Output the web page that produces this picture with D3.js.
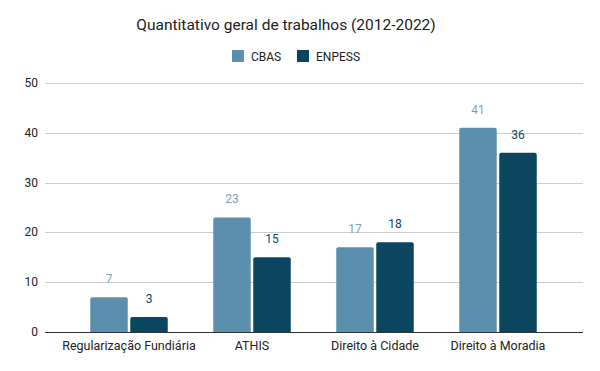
<!DOCTYPE html>
<html>
<head>
<meta charset="utf-8">
<script src="https://cdn.jsdelivr.net/npm/d3@7"></script>
<style>
  body { margin: 0; background: #fff; }
  text { font-family: Roboto, "Liberation Sans", Arial, sans-serif; }
</style>
</head>
<body>
<div id="chart"></div>
<script>
const width = 600;
const height = 371;

const categories = ["Regularização Fundiária", "ATHIS", "Direito à Cidade", "Direito à Moradia"];
const seriesNames = ["CBAS", "ENPESS"];
const cbasValues = [7, 23, 17, 41];
const enpessValues = [3, 15, 18, 36];
const yTicks = [0, 10, 20, 30, 40, 50];

const colors = {CBAS: "#5b8fad", ENPESS: "#0b4661"};
const labelColors = {CBAS: "#7f9fb5", ENPESS: "#0b4661"};

const svg = d3.select("#chart").append("svg")
    .attr("width", width)
    .attr("height", height);

// plot area
const gridLeft = 45, gridRight = 583;
const x = d3.scaleBand().domain(categories).range([67.5, 559.5]);
const y = d3.scaleLinear().domain([0, 50]).range([332, 83]);

const barW = 37.5, barGap = 2.5;
const xSub = d3.scaleOrdinal().domain(seriesNames)
    .range([-barGap / 2 - barW, barGap / 2]);

// title
svg.append("text")
    .attr("x", 286).attr("y", 30)
    .attr("text-anchor", "middle")
    .attr("font-size", 15.5)
    .attr("fill", "#222")
    .text("Quantitativo geral de trabalhos (2012-2022)");

// legend
const legend = svg.append("g").selectAll("g")
    .data([{name: "CBAS", x: 232}, {name: "ENPESS", x: 297}])
    .join("g")
    .attr("transform", d => `translate(${d.x}, 50)`);
legend.append("rect")
    .attr("width", 12).attr("height", 12)
    .attr("fill", d => colors[d.name]);
legend.append("text")
    .attr("x", 19).attr("y", 10.5)
    .attr("font-size", 12)
    .attr("fill", "#222")
    .text(d => d.name);

// gridlines + y labels
svg.append("g").selectAll("line")
    .data(yTicks.filter(t => t > 0))
    .join("line")
    .attr("x1", gridLeft).attr("x2", gridRight)
    .attr("y1", d => Math.round(y(d)) + 0.5).attr("y2", d => Math.round(y(d)) + 0.5)
    .attr("stroke", "#cccccc");

svg.append("g").selectAll("text")
    .data(yTicks)
    .join("text")
    .attr("x", 38).attr("y", d => y(d) + 4)
    .attr("text-anchor", "end")
    .attr("font-size", 12)
    .attr("fill", "#222")
    .text(d => d);

// bars
const rows = categories.map((c, i) => ({
    cat: c,
    vals: [{s: "CBAS", v: cbasValues[i]}, {s: "ENPESS", v: enpessValues[i]}]
}));

const group = svg.append("g").selectAll("g")
    .data(rows)
    .join("g")
    .attr("transform", d => `translate(${x(d.cat) + x.bandwidth() / 2}, 0)`);

group.selectAll("path")
    .data(d => d.vals)
    .join("path")
    .attr("fill", d => colors[d.s])
    .attr("d", d => {
        const x0 = xSub(d.s), x1 = x0 + barW;
        const top = y(d.v), bot = y(0), r = 2;
        return `M${x0},${bot}V${top + r}Q${x0},${top} ${x0 + r},${top}H${x1 - r}Q${x1},${top} ${x1},${top + r}V${bot}Z`;
    });

group.selectAll("text")
    .data(d => d.vals)
    .join("text")
    .attr("x", d => xSub(d.s) + barW / 2)
    .attr("y", d => y(d.v) - 14)
    .attr("text-anchor", "middle")
    .attr("font-size", 12)
    .attr("fill", d => labelColors[d.s])
    .text(d => d.v);

// baseline
svg.append("line")
    .attr("x1", gridLeft).attr("x2", gridRight)
    .attr("y1", 332.5).attr("y2", 332.5)
    .attr("stroke", "#333");

// category labels
svg.append("g").selectAll("text")
    .data(categories)
    .join("text")
    .attr("x", d => x(d) + x.bandwidth() / 2)
    .attr("y", 350)
    .attr("text-anchor", "middle")
    .attr("font-size", 12.5)
    .attr("fill", "#222")
    .text(d => d);
</script>
</body>
</html>
